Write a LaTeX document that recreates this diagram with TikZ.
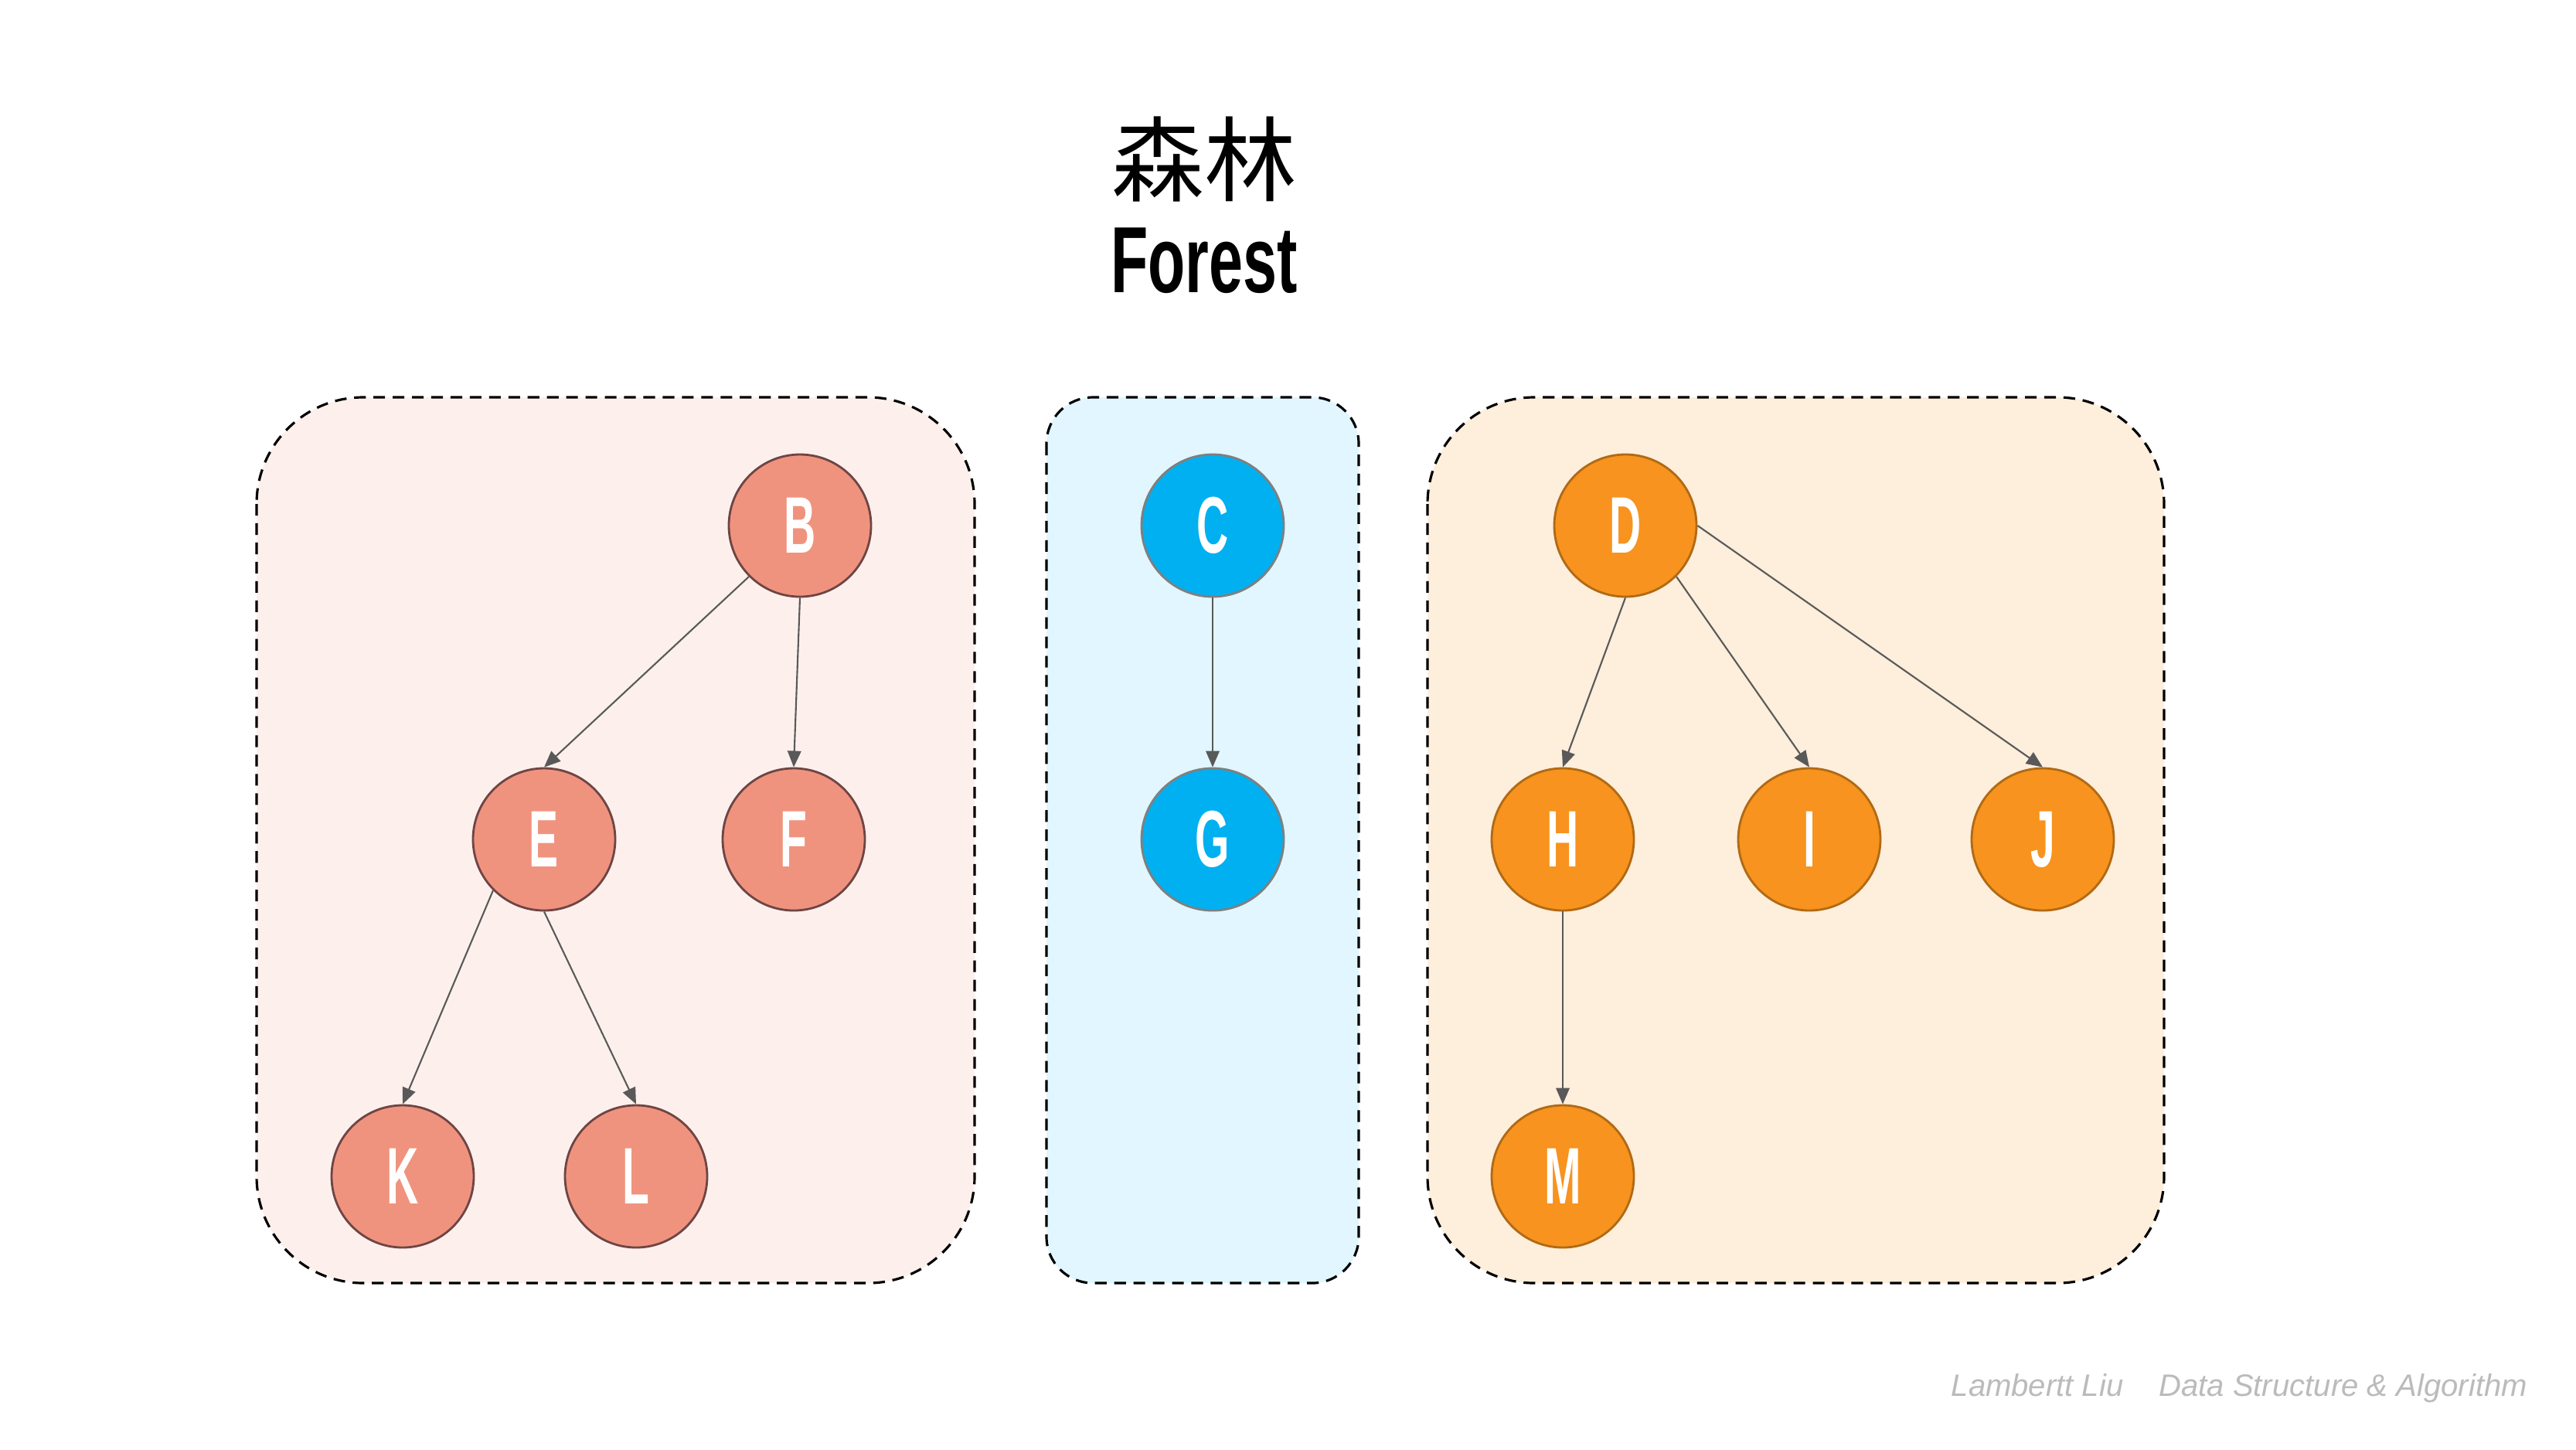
\documentclass[tikz,border=0pt]{standalone}
\usepackage{fontspec}
\usetikzlibrary{arrows.meta}
\newfontfamily\cjk{Noto Sans CJK SC}
\newfontfamily\titlefont[FakeStretch=0.65]{Liberation Sans}
\newfontfamily\letterfont[FakeStretch=0.55]{Liberation Sans}
\newfontfamily\footfont{Liberation Sans}
\definecolor{redbg}{HTML}{FDF0EC}
\definecolor{redfill}{HTML}{F0937E}
\definecolor{redline}{HTML}{6E4545}
\definecolor{bluebg}{HTML}{E1F6FE}
\definecolor{bluefill}{HTML}{00B0F0}
\definecolor{blueline}{HTML}{7F7F7F}
\definecolor{orangebg}{HTML}{FEEEDC}
\definecolor{orangefill}{HTML}{F7931E}
\definecolor{orangeline}{HTML}{B06A15}
\definecolor{edgegray}{HTML}{595959}
\definecolor{footgray}{HTML}{BBBBBB}

\begin{document}
\begin{tikzpicture}[
        vertex/.style={circle, minimum size=1.84cm, inner sep=0pt, line width=0.8pt,
            text=white, font=\letterfont\bfseries\fontsize{29.5}{29.5}\selectfont},
        redv/.style={vertex, fill=redfill, draw=redline},
        bluev/.style={vertex, fill=bluefill, draw=blueline},
        orangev/.style={vertex, fill=orangefill, draw=orangeline},
        edge/.style={-{Triangle[length=6pt, width=5pt]}, draw=edgegray, line width=0.6pt},
        group/.style={line width=0.9pt, dash pattern=on 4.3pt off 2.8pt}
    ]
        \useasboundingbox[fill=white] (0,0) rectangle (33.33,-18.75);
        % title
        \node (zh) at (15.58,-2.06) {\cjk\fontsize{34}{34}\selectfont 森林};
        \node[anchor=base] (en) at (15.58,-3.78) {\titlefont\bfseries\fontsize{34.6}{34.6}\selectfont Forest};
        % groups
        \draw[group, fill=redbg, rounded corners=1.38cm] (3.32,-5.14) rectangle (12.61,-16.60);
        \draw[group, fill=bluebg, rounded corners=0.6cm] (13.54,-5.14) rectangle (17.58,-16.60);
        \draw[group, fill=orangebg, rounded corners=1.38cm] (18.47,-5.14) rectangle (28.00,-16.60);
        % first tree
        \node[redv] (B) at (10.35,-6.80) {B};
        \node[redv] (E) at (7.04,-10.86) {E};
        \node[redv] (F) at (10.27,-10.86) {F};
        \node[redv] (K) at (5.21,-15.22) {K};
        \node[redv] (L) at (8.23,-15.22) {L};
        % second tree
        \node[bluev] (C) at (15.69,-6.80) {C};
        \node[bluev] (G) at (15.69,-10.86) {G};
        % third tree
        \node[orangev] (D) at (21.03,-6.80) {D};
        \node[orangev] (H) at (20.22,-10.86) {H};
        \node[orangev] (I) at (23.41,-10.86) {I};
        \node[orangev] (J) at (26.43,-10.86) {J};
        \node[orangev] (M) at (20.22,-15.22) {M};
        \draw[edge] (B.south west) -- (E.north);
        \draw[edge] (B.south) -- (F.north);
        \draw[edge] (E.south west) -- (K.north);
        \draw[edge] (E.south) -- (L.north);
        \draw[edge] (C.south) -- (G.north);
        \draw[edge] (D.south) -- (H.north);
        \draw[edge] (D.south east) -- (I.north);
        \draw[edge] (D.east) -- (J.north);
        \draw[edge] (H.south) -- (M.north);
        % footer
        \node[anchor=base west, inner sep=0pt, text=footgray] (credit) at (25.24,-18.06)
            {\footfont\itshape\fontsize{11.4}{11.4}\selectfont Lambertt Liu\hspace{0.46cm}Data Structure \& Algorithm};
    \end{tikzpicture}
\end{document}
